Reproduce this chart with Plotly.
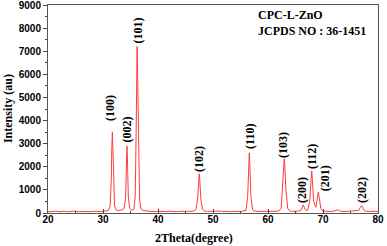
import plotly.graph_objects as go

two_theta = [20.0, 20.5, 21.0, 21.5, 22.0, 22.5, 23.0, 23.5, 24.0, 24.5, 25.0, 25.5, 26.0, 26.5, 27.0, 27.5,
             28.0, 28.5, 29.0, 29.5, 30.0, 30.5, 31.0, 31.3, 31.5, 31.6, 31.7, 31.8, 31.9, 32.1, 32.4, 32.8,
             33.3, 33.8, 34.1, 34.25, 34.35, 34.45, 34.6, 34.85, 35.2, 35.6, 35.85, 36.0, 36.1, 36.2, 36.3,
             36.45, 36.65, 36.9, 37.3, 37.8, 38.5, 39.0, 39.5, 40.0, 40.5, 41.0, 41.5, 42.0, 42.5, 43.0,
             43.5, 44.0, 44.5, 45.0, 45.5, 46.0, 46.5, 46.9, 47.2, 47.4, 47.5, 47.6, 47.8, 48.1, 48.5, 49.0,
             49.5, 50.0, 50.5, 51.0, 51.5, 52.0, 52.5, 53.0, 53.5, 54.0, 54.5, 55.0, 55.5, 56.0, 56.3, 56.5,
             56.6, 56.7, 56.9, 57.2, 57.6, 58.0, 58.5, 59.0, 59.5, 60.0, 60.5, 61.0, 61.5, 62.0, 62.4, 62.7,
             62.85, 62.95, 63.05, 63.25, 63.6, 64.0, 64.5, 65.0, 65.5, 66.0, 66.3, 66.4, 66.5, 66.8, 67.2,
             67.6, 67.85, 67.95, 68.05, 68.3, 68.7, 69.0, 69.15, 69.3, 69.6, 70.0, 70.5, 71.0, 71.5, 72.0,
             72.5, 72.7, 72.9, 73.3, 74.0, 74.5, 75.0, 75.5, 76.0, 76.5, 76.8, 77.0, 77.2, 77.5, 78.0, 78.5,
             79.0, 79.5, 80.0]
intensity = [50, 70, 60, 80, 55, 65, 75, 50, 60, 70, 85, 60, 55, 65, 50, 70,
             60, 75, 55, 65, 70, 80, 110, 300, 1400, 2800, 3500, 2800, 1400, 300, 130, 110,
             120, 180, 600, 1800, 2900, 2300, 700, 200, 120, 150, 700, 3000, 6200, 7200, 6000,
             2500, 600, 180, 110, 90, 70, 80, 60, 75, 65, 70, 60, 80, 65, 70,
             55, 75, 60, 70, 80, 65, 90, 150, 600, 1400, 1700, 1400, 600, 150, 80, 70,
             75, 60, 70, 65, 80, 60, 75, 55, 70, 65, 70, 60, 75, 120, 700, 2100,
             2600, 2100, 700, 150, 80, 70, 75, 60, 80, 70, 65, 75, 70, 90, 200, 1200,
             2100, 2350, 2100, 1000, 180, 90, 70, 75, 80, 120, 300, 350, 300, 130, 120,
             500, 1500, 1820, 1500, 500, 250, 750, 900, 700, 200, 80, 70, 75, 65, 80,
             120, 140, 110, 70, 65, 75, 60, 70, 75, 110, 250, 320, 250, 100, 70, 65,
             75, 60, 70]

hkl_labels = ["(100)", "(002)", "(101)", "(102)", "(110)", "(103)", "(200)", "(112)", "(201)", "(202)"]
label_x = [31.3, 34.3, 36.3, 47.45, 56.7, 62.7, 66.2, 68.0, 70.4, 77.1]
label_y = [4550, 3600, 7880, 2340, 3330, 2940, 1000, 2420, 1510, 1000]

x_ticks = [20, 30, 40, 50, 60, 70, 80]
y_ticks = [0, 1000, 2000, 3000, 4000, 5000, 6000, 7000, 8000, 9000]

serif = "Liberation Serif"
sans = "Liberation Sans"

fig = go.Figure()
fig.add_trace(go.Scatter(x=two_theta, y=intensity, mode="lines",
                         line=dict(color="#ff3b3b", width=1), showlegend=False))

for t, lx, ly in zip(hkl_labels, label_x, label_y):
    fig.add_annotation(x=lx, y=ly, text=t, textangle=-90, showarrow=False,
                       font=dict(family=serif, size=12, color="black", weight="bold"))

fig.add_annotation(xref="paper", yref="paper", x=0.63, y=0.95, xanchor="left", yanchor="middle",
                   text="CPC-L-ZnO", showarrow=False,
                   font=dict(family=serif, size=12, color="black", weight="bold"))
fig.add_annotation(xref="paper", yref="paper", x=0.63, y=0.877, xanchor="left", yanchor="middle",
                   text="JCPDS NO : 36-1451", showarrow=False,
                   font=dict(family=serif, size=12, color="black", weight="bold"))

# axis titles
fig.add_annotation(xref="paper", yref="paper", x=0.442, y=-0.12, xanchor="center", yanchor="middle",
                   text="2Theta(degree)", showarrow=False,
                   font=dict(family=serif, size=12, color="black", weight="bold"))
fig.add_annotation(xref="paper", yref="paper", x=-0.121, y=0.5, xanchor="center", yanchor="middle",
                   text="Intensity (au)", textangle=-90, showarrow=False,
                   font=dict(family=serif, size=12, color="black", weight="bold"))

fig.update_layout(
    width=387, height=246,
    margin=dict(l=48, r=9, t=5, b=33),
    plot_bgcolor="white", paper_bgcolor="white",
)
fig.update_xaxes(range=[20, 80], tickvals=x_ticks, ticks="inside", ticklen=4,
                 tickcolor="#444", showgrid=False, zeroline=False, automargin=False,
                 showline=True, linecolor="#555", linewidth=1, mirror=True,
                 ticklabeloverflow="allow", ticklabelstandoff=-3,
                 minor=dict(ticks="inside", ticklen=2, dtick=5, tickcolor="#444"),
                 tickfont=dict(family=sans, size=10, color="black", weight="bold"))
fig.update_yaxes(range=[0, 9000], tickvals=y_ticks, ticks="outside", ticklen=4,
                 tickcolor="#444", showgrid=False, zeroline=False, automargin=False,
                 showline=True, linecolor="#555", linewidth=1, mirror=True,
                 ticklabeloverflow="allow",
                 minor=dict(ticks="outside", ticklen=2, dtick=500, tickcolor="#444"),
                 tickfont=dict(family=sans, size=10, color="black", weight="bold"))

fig.write_html("out.html", config={"displayModeBar": False},
               post_script="document.body.style.margin='0';")
